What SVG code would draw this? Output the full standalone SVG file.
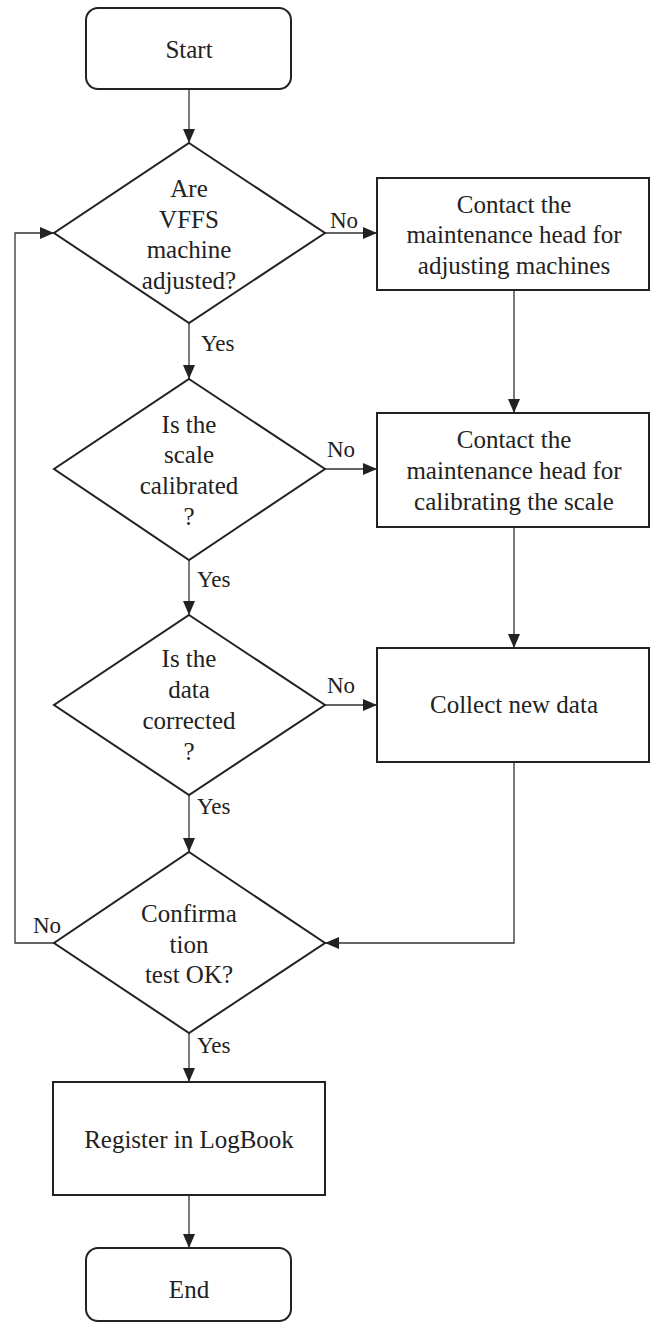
<svg xmlns="http://www.w3.org/2000/svg" width="650" height="1324" viewBox="0 0 650 1324">
<style>
.shape{fill:#fff;stroke:#222;stroke-width:2}
.t{font-family:"Liberation Serif",serif;font-size:25px;fill:#222;text-anchor:middle}
.lbl{font-family:"Liberation Serif",serif;font-size:23px;fill:#222}
.c{fill:none;stroke:#333;stroke-width:1.3}
</style>
<defs>
<marker id="ah" viewBox="0 0 14 12" refX="14" refY="6" markerWidth="14" markerHeight="12" markerUnits="userSpaceOnUse" orient="auto">
<path d="M0,0 L14,6 L0,12 z" fill="#222"/>
</marker>
</defs>
<g id="connectors">
<path class="c" d="M189,89 V143" marker-end="url(#ah)"/>
<path class="c" d="M325,233 H377" marker-end="url(#ah)"/>
<path class="c" d="M189,323 V379" marker-end="url(#ah)"/>
<path class="c" d="M514,290 V413" marker-end="url(#ah)"/>
<path class="c" d="M325,469 H377" marker-end="url(#ah)"/>
<path class="c" d="M189,560 V615" marker-end="url(#ah)"/>
<path class="c" d="M514,527 V648" marker-end="url(#ah)"/>
<path class="c" d="M325,705 H377" marker-end="url(#ah)"/>
<path class="c" d="M189,795 V852" marker-end="url(#ah)"/>
<path class="c" d="M514,762 V943 H325" marker-end="url(#ah)"/>
<path class="c" d="M54,943 H15 V233 H54" marker-end="url(#ah)"/>
<path class="c" d="M189,1033 V1082" marker-end="url(#ah)"/>
<path class="c" d="M189,1195 V1248" marker-end="url(#ah)"/>
<text class="lbl" x="330" y="228">No</text>
<text class="lbl" x="201" y="351">Yes</text>
<text class="lbl" x="327" y="457">No</text>
<text class="lbl" x="197" y="587">Yes</text>
<text class="lbl" x="327" y="693">No</text>
<text class="lbl" x="197" y="814">Yes</text>
<text class="lbl" x="33" y="933">No</text>
<text class="lbl" x="197" y="1053">Yes</text>
</g>
<g id="start">
<rect class="shape" x="86" y="8" width="205" height="81" rx="12"/>
<text class="t" x="189" y="58">Start</text>
</g>
<g id="d1">
<polygon class="shape" points="189,143 325,233 189,323 54,233"/>
<text class="t" x="189" y="197">Are</text>
<text class="t" x="189" y="228">VFFS</text>
<text class="t" x="189" y="258">machine</text>
<text class="t" x="189" y="289">adjusted?</text>
</g>
<g id="b1">
<rect class="shape" x="377" y="178" width="272" height="112"/>
<text class="t" x="514" y="213">Contact the</text>
<text class="t" x="514" y="243">maintenance head for</text>
<text class="t" x="514" y="274">adjusting machines</text>
</g>
<g id="d2">
<polygon class="shape" points="189,379 325,469 189,560 54,469"/>
<text class="t" x="189" y="433">Is the</text>
<text class="t" x="189" y="463">scale</text>
<text class="t" x="189" y="494">calibrated</text>
<text class="t" x="189" y="525">?</text>
</g>
<g id="b2">
<rect class="shape" x="377" y="413" width="272" height="114"/>
<text class="t" x="514" y="448">Contact the</text>
<text class="t" x="514" y="479">maintenance head for</text>
<text class="t" x="514" y="510">calibrating the scale</text>
</g>
<g id="d3">
<polygon class="shape" points="189,615 325,705 189,795 54,705"/>
<text class="t" x="189" y="667">Is the</text>
<text class="t" x="189" y="698">data</text>
<text class="t" x="189" y="729">corrected</text>
<text class="t" x="189" y="760">?</text>
</g>
<g id="b3">
<rect class="shape" x="377" y="648" width="272" height="114"/>
<text class="t" x="514" y="713">Collect new data</text>
</g>
<g id="d4">
<polygon class="shape" points="189,852 325,943 189,1033 54,943"/>
<text class="t" x="189" y="922">Confirma</text>
<text class="t" x="189" y="953">tion</text>
<text class="t" x="189" y="983">test OK?</text>
</g>
<g id="b4">
<rect class="shape" x="53" y="1082" width="272" height="113"/>
<text class="t" x="189" y="1148">Register in LogBook</text>
</g>
<g id="end">
<rect class="shape" x="86" y="1248" width="205" height="73" rx="12"/>
<text class="t" x="189" y="1298">End</text>
</g>
</svg>
